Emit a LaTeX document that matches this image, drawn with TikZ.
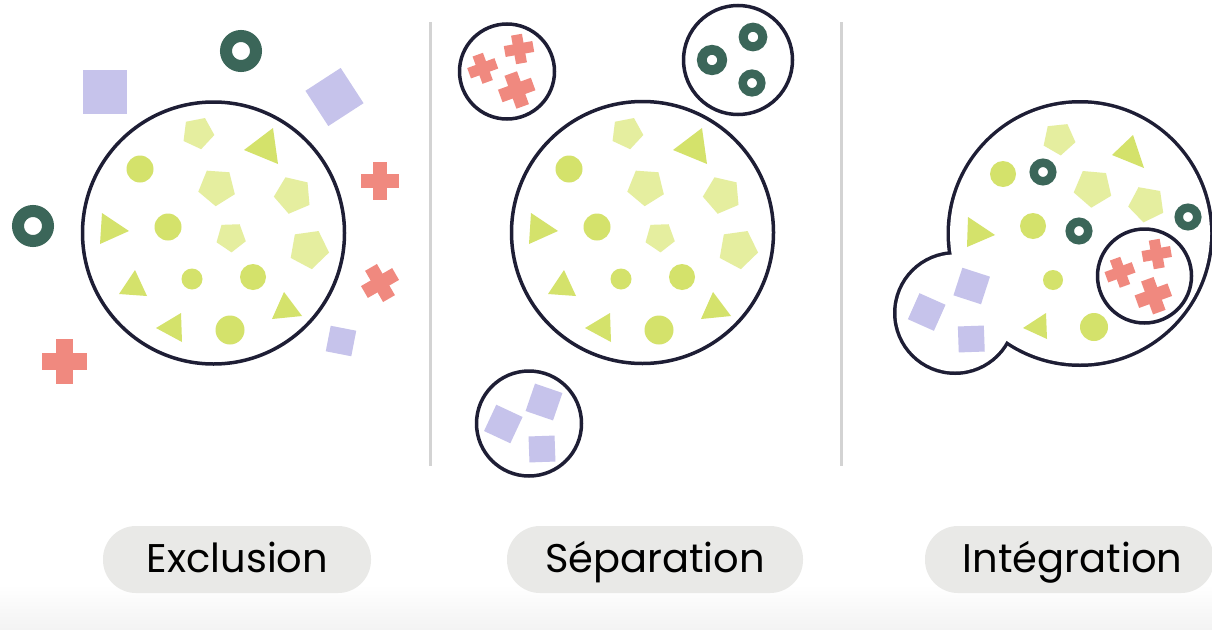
\documentclass[tikz,border=0pt]{standalone}
\usepackage{fontspec}
\setmainfont{Poppins}[Ligatures=NoCommon]
\definecolor{lime}{HTML}{D4E26B}
\definecolor{pentc}{HTML}{E5EE9F}
\definecolor{lav}{HTML}{C6C3EB}
\definecolor{salmon}{HTML}{F0897F}
\definecolor{ringc}{HTML}{3B6659}
\definecolor{outl}{HTML}{1E1E35}
\definecolor{pillc}{HTML}{E9E9E7}
\definecolor{divc}{HTML}{D3D3D3}
\definecolor{botc}{HTML}{F3F3F3}
\newcommand\mycross[4]{% x y size rot
  \begin{scope}[shift={(#1,#2)},rotate=#4]
    \fill[salmon] (-#3/2,-0.19*#3) rectangle (#3/2,0.19*#3);
    \fill[salmon] (-0.19*#3,-#3/2) rectangle (0.19*#3,#3/2);
  \end{scope}}
\newcommand\mysq[4]{% x y side rot
  \begin{scope}[shift={(#1,#2)},rotate=#4]
    \fill[lav] (-#3/2,-#3/2) rectangle (#3/2,#3/2);
  \end{scope}}
\newcommand\mypent[4]{% x y r screen-angle
  \begin{scope}[shift={(#1,#2)},rotate=-#4,scale=1.1]
    \fill[pentc] (0:#3) -- (72:#3) -- (144:#3) -- (216:#3) -- (288:#3) -- cycle;
  \end{scope}}
\newcommand\myring[4]{% x y midr width
  \draw[ringc,line width=#4pt] (#1,#2) circle (#3);}
\newcommand\mydot[3]{\fill[lime] (#1,#2) circle (#3);}
\newcommand\mytri[6]{\fill[lime] (#1,#2) -- (#3,#4) -- (#5,#6) -- cycle;}
\newcommand\innerset{%
  \mydot{140}{169}{13.5}\mydot{168}{227}{13.5}\mydot{192}{279}{10.5}
  \mydot{253}{277}{13}\mydot{230}{330}{14.5}
  \mytri{273}{128}{278}{164}{244}{150}
  \mytri{102}{213}{129}{231}{100}{244}
  \mytri{135}{270}{147}{296}{119}{294}
  \mytri{181}{313}{182}{342}{156}{328}
  \mytri{284}{292}{302}{316}{272}{319}
  \mypent{198}{133}{15}{79}\mypent{217}{187}{17.5}{94}
  \mypent{293}{195}{17.5}{103}\mypent{231}{237}{14}{88}
  \mypent{309}{249}{18.5}{82}}
\tikzset{outline/.style={draw=outl,line width=3.5pt},
  pill/.style={fill=pillc,rounded corners=33pt},
  lbl/.style={font=\fontsize{40}{44}\selectfont,text=black,anchor=base,inner sep=0pt}}
\begin{document}
\begin{tikzpicture}[x=1pt,y=-1pt]
\useasboundingbox (0,0) rectangle (1212,629);
\fill[white] (0,0) rectangle (1212,629);
\shade[top color=white,bottom color=botc] (0,585) rectangle (1212,629);
% dividers
\draw[divc,line width=3pt] (430,22) -- (430,466);
\draw[divc,line width=3pt] (841,22) -- (841,466);
% ---------- Exclusion
\draw[outline] (213.5,233) circle (131);
\innerset
\myring{241}{51}{15}{12}
\myring{33}{226}{15}{12}
\mysq{104.5}{91.5}{44}{0}
\mysq{334.5}{97}{42}{33}
\mysq{341}{341}{26}{-11}
\mycross{380}{181}{38}{0}
\mycross{380}{283}{36}{30}
\mycross{64.5}{361.5}{45}{0}
% ---------- Separation
\draw[outline] (642.5,232.5) circle (131);
\begin{scope}[shift={(429,0)}]\innerset\end{scope}
\draw[outline] (507,71.5) circle (47.5);
\mycross{482.7}{68.3}{29}{20}
\mycross{519}{49}{29}{10}
\mycross{516.7}{90}{35}{20}
\draw[outline] (738,60) circle (54.5);
\myring{712}{60}{10.2}{9.8}
\myring{753}{37}{9.8}{9}
\myring{752}{83}{9.3}{8.5}
\draw[outline] (529,423.5) circle (52.5);
\mysq{503.3}{424}{29}{-25}
\mysq{544}{402}{29}{-19}
\mysq{542}{449}{26}{2}
% ---------- Integration
\draw[draw=outl,line width=7pt] (1080,233.5) circle (130);
\draw[draw=outl,line width=7pt] (955,313) circle (58.5);
\fill[white] (1080,233.5) circle (130);
\fill[white] (955,313) circle (58.5);
\mypent{1059}{138.7}{15.3}{84}
\mypent{1093}{188}{18}{95}
\mypent{1146.7}{204}{17}{100}
\mytri{1133}{135}{1144}{168}{1112}{155}
\mytri{968}{217}{995}{235}{967}{247}
\mytri{1046}{313}{1047}{339}{1023}{328}
\mydot{1003}{174}{13}\mydot{1033}{226}{13}\mydot{1053}{280}{10}\mydot{1094}{327}{14}
\myring{1043}{172}{9.25}{8.5}
\myring{1079}{231}{9.25}{8.5}
\myring{1188}{217}{9.25}{8.5}
\mysq{926.7}{312}{28.5}{-24}
\mysq{971.7}{286}{29}{-18}
\mysq{971.3}{339}{26}{2}
\draw[outline] (1144.5,276) circle (47);
\mycross{1120}{272.3}{29}{20}
\mycross{1156.7}{254}{29}{10}
\mycross{1153.3}{295.7}{35}{20}
% ---------- labels
\fill[pill] (103,526) rectangle (371,593);
\fill[pill] (507,526) rectangle (803,593);
\fill[pill] (925,526) rectangle (1214,593);
\node[lbl] (l1) at (237.5,572) {Exclusion};
\node[lbl] (l2) at (655,572) {Séparation};
\node[lbl] (l3) at (1072.5,572) {Intégration};
\end{tikzpicture}
\end{document}
